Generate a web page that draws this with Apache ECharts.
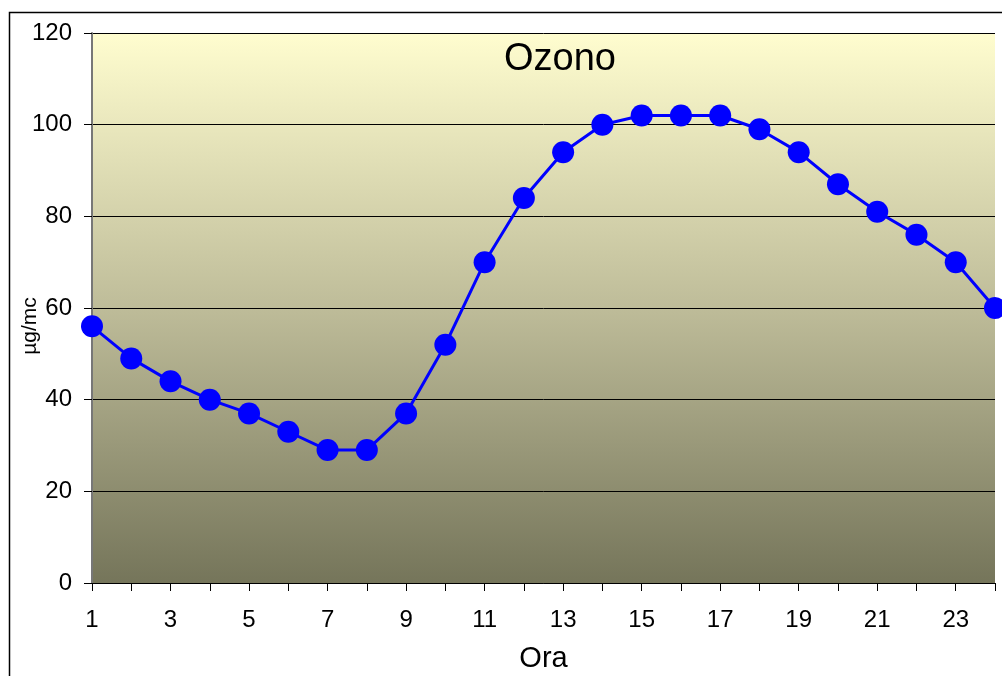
<!DOCTYPE html>
<html>
<head>
<meta charset="utf-8">
<script src="https://cdn.jsdelivr.net/npm/echarts@6/dist/echarts.min.js"></script>
<style>
  html, body { margin: 0; padding: 0; background: #fff; }
  #chart { width: 1002px; height: 676px; }
</style>
</head>
<body>
<div id="chart"></div>
<script>
// ore del giorno
var hours = ["1","2","3","4","5","6","7","8","9","10","11","12","13","14","15","16","17","18","19","20","21","22","23","24"];
// concentrazione ozono (µg/mc)
var ozono = [56, 49, 44, 40, 37, 33, 29, 29, 37, 52, 70, 84, 94, 100, 102, 102, 102, 99, 94, 87, 81, 76, 70, 60];
var yTicks = [0, 20, 40, 60, 80, 100, 120];

var myChart = echarts.init(document.getElementById("chart"));
myChart.setOption({
  animation: false,
  textStyle: { fontFamily: "Liberation Sans, Arial, sans-serif" },
  title: {
    text: "Ozono",
    left: 555,
    top: 36,
    textAlign: "center",
    textStyle: { fontSize: 38, fontWeight: "normal", color: "#000" },
  },
  graphic: [
    {
      // cornice esterna
      type: "rect",
      left: 7,
      top: 10,
      shape: { width: 1200, height: 900 },
      style: { fill: "none", stroke: "#000", lineWidth: 1.5 },
      silent: true,
      z: -1,
    },
  ],
  grid: {
    left: 92,
    right: 7,
    top: 33,
    bottom: 93,
    outerBoundsMode: "none",
    show: true,
    borderWidth: 0,
    backgroundColor: {
      type: "linear",
      x: 0, y: 0, x2: 0, y2: 1,
      colorStops: [
        { offset: 0, color: "#FFFDCF" },
        { offset: 0.5, color: "#BEBC99" },
        { offset: 1, color: "#75755A" },
      ],
    },
  },
  xAxis: {
    type: "category",
    data: hours,
    boundaryGap: false,
    name: "Ora",
    nameLocation: "middle",
    nameGap: 61,
    nameMoveOverlap: false,
    nameTextStyle: { fontSize: 29, color: "#000" },
    axisLine: { lineStyle: { color: "#000", width: 1 } },
    axisTick: { show: true, interval: 0, length: 8, lineStyle: { color: "#000" } },
    axisLabel: {
      interval: 1,
      margin: 25,
      fontSize: 24,
      color: "#000",
    },
    splitLine: { show: false },
  },
  yAxis: {
    type: "value",
    min: yTicks[0],
    max: yTicks[yTicks.length - 1],
    interval: 20,
    name: "µg/mc",
    nameLocation: "middle",
    nameGap: 51,
    nameRotate: 90,
    nameMoveOverlap: false,
    // spinge la scritta un po' più in basso come nell'originale
    nameTextStyle: { fontSize: 21, color: "#000", padding: [0, 36, 0, 0] },
    axisLine: { show: true, lineStyle: { color: "#777", width: 2 } },
    axisTick: { show: true, length: 8, lineStyle: { color: "#000" } },
    axisLabel: { fontSize: 24, color: "#000", margin: 20 },
    splitLine: { show: true, lineStyle: { color: "#000", width: 1 } },
  },
  series: [
    {
      name: "Ozono",
      type: "line",
      data: ozono,
      symbol: "circle",
      symbolSize: 22,
      clip: false,
      lineStyle: { color: "#0000FF", width: 3 },
      itemStyle: { color: "#0000FF" },
    },
  ],
});
</script>
</body>
</html>
